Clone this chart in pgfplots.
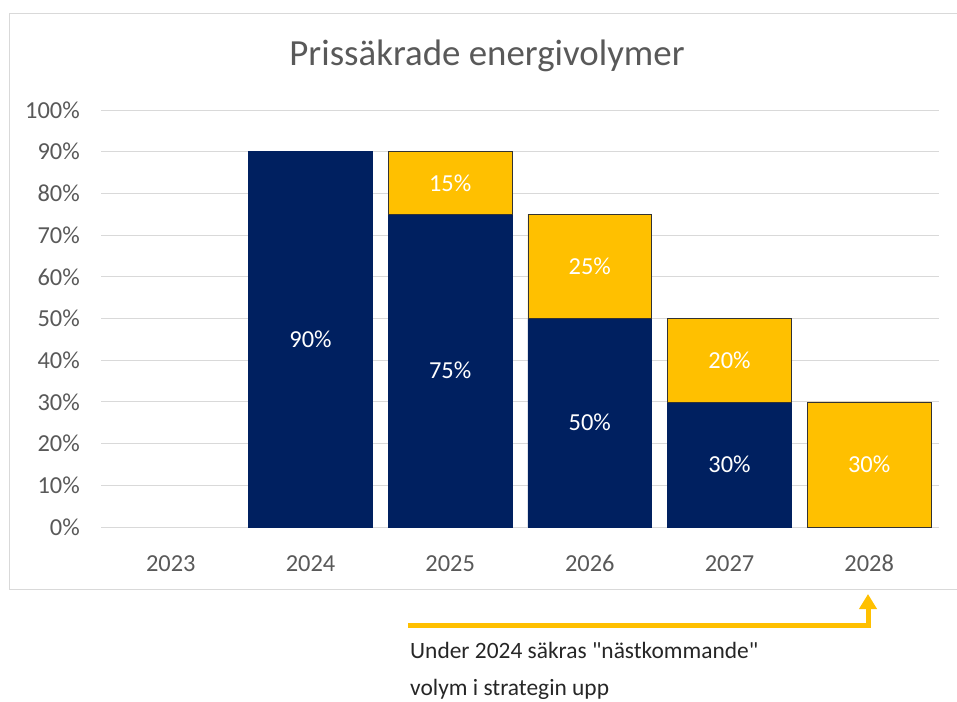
\documentclass[border=0pt]{standalone}
\usepackage{pgfplots}
\pgfplotsset{compat=1.18}
\usepackage{fontspec}
\setmainfont{Carlito}[Ligatures=TeXOff]
\usetikzlibrary{arrows.meta}
\definecolor{navy}{HTML}{002060}
\definecolor{gold}{HTML}{FFC000}
\definecolor{gridc}{HTML}{D9D9D9}
\definecolor{txtc}{HTML}{595959}
\pgfplotsset{
  base/.style={
    at={(101bp,-527bp)}, anchor=south west,
    scale only axis, width=838bp, height=417bp,
    xmin=-0.5, xmax=5.5, ymin=0, ymax=100,
    bar width=0.886, bar shift=0pt,
  }
}
\begin{document}
\begin{tikzpicture}
\useasboundingbox (0,0) rectangle (957bp,-702bp);
\draw[gridc, line width=1.2bp] (9.5bp,-13.5bp) rectangle (960bp,-589.5bp);
\node[txtc, font=\fontsize{37}{44}\selectfont] at (487bp,-56bp) {Prissäkrade energivolymer};
\begin{axis}[base,
  ybar,
  axis line style={draw=none}, tick style={draw=none},
  ymajorgrids, major grid style={gridc, line width=1bp},
  ytick={0,10,...,100},
  yticklabels={0\%,10\%,20\%,30\%,40\%,50\%,60\%,70\%,80\%,90\%,100\%},
  xtick={0,...,5},
  xticklabels={2023,2024,2025,2026,2027,2028},
  ticklabel style={font=\fontsize{24.5}{29}\selectfont, text=txtc, inner sep=0pt},
  yticklabel style={anchor=east, xshift=-21bp},
  xticklabel style={anchor=base, yshift=-40bp},
]
\addplot[fill=navy, draw=navy, line width=0.8bp] coordinates {(1,90) (2,75) (3,50) (4,30)};
\end{axis}
\begin{axis}[base, ybar stacked, hide axis]
\addplot[fill=none, draw=none] coordinates {(2,75) (3,50) (4,30) (5,0)};
\addplot[fill=gold, draw=black!80, line width=0.8bp] coordinates {(2,15) (3,25) (4,20) (5,30)};
\end{axis}
\begin{axis}[base, hide axis,
  nodes near coords, point meta=explicit symbolic,
  every node near coord/.style={anchor=center, text=white, font=\fontsize{24.5}{29}\selectfont, inner sep=0pt},
]
\addplot[only marks, mark=none] coordinates {
  (1,45) [90\%] (2,37.5) [75\%] (3,25) [50\%] (4,15) [30\%]
  (2,82.5) [15\%] (3,62.5) [25\%] (4,40) [20\%] (5,15) [30\%]
};
\end{axis}
\draw[gold, line width=5bp, -{Triangle[width=17bp,length=15bp]}] (408bp,-625bp) -- (868bp,-625bp) -- (868bp,-594bp);
\node[anchor=base west, inner sep=0pt, text=black!85, font=\fontsize{23.5}{28}\selectfont] at (410bp,-658bp) {Under 2024 säkras "nästkommande"};
\node[anchor=base west, inner sep=0pt, text=black!85, font=\fontsize{23.5}{28}\selectfont] at (410bp,-695bp) {volym i strategin upp};
\end{tikzpicture}
\end{document}
